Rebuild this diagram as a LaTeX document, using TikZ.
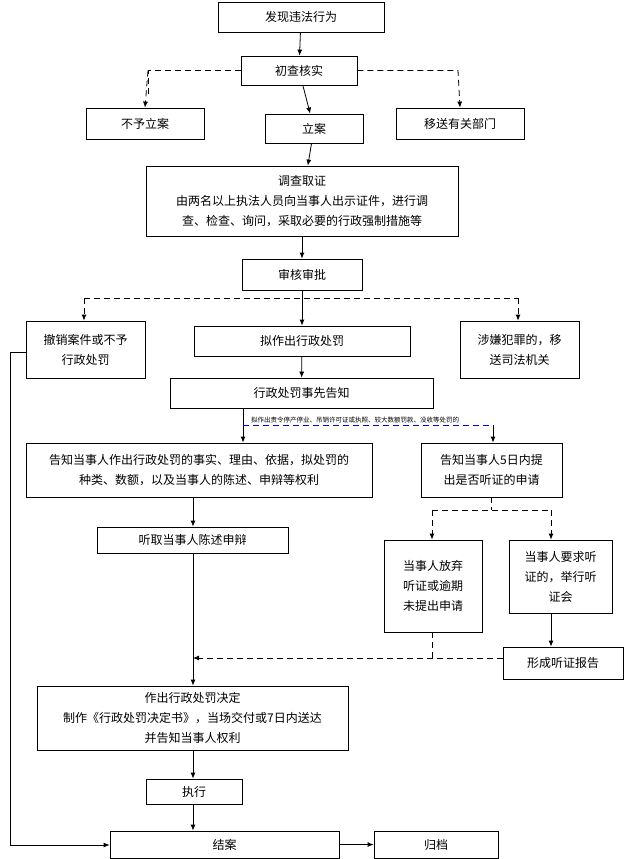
\documentclass[tikz,border=0pt]{standalone}
\usepackage{fontspec}
\setmainfont{Noto Sans CJK SC}
\usetikzlibrary{arrows.meta}
\begin{document}
\begin{tikzpicture}[x=1pt,y=-1pt,
  bx/.style={draw,thick,fill=white,align=center,font=\fontsize{12}{20}\selectfont,inner sep=0pt},
  ar/.style={-{Latex[length=6pt,width=5pt]},thick},
  da/.style={dash pattern=on 6pt off 4pt,thick}]
\useasboundingbox (0,0) rectangle (625,859);
\newcommand\bx[6]{\node[bx,minimum width={#4-#2},minimum height={#5-#3}] (#1) at ({(#2+#4)/2},{(#3+#5)/2}) {#6};}
\bx{a}{218}{2}{384}{32}{发现违法行为}
\bx{b}{241}{56}{357}{85}{初查核实}
\bx{c1}{86}{108}{204}{139}{不予立案}
\bx{c2}{265}{114}{363}{143}{立案}
\bx{c3}{396}{108}{524}{139}{移送有关部门}
\bx{d}{146}{166}{458}{236}{调查取证\\由两名以上执法人员向当事人出示证件，进行调\\查、检查、询问，采取必要的行政强制措施等}
\bx{e}{242}{259}{362}{290}{审核审批}
\bx{f1}{26}{321}{145}{378}{撤销案件或不予\\行政处罚}
\bx{f2}{194}{326}{410}{356}{拟作出行政处罚}
\bx{f3}{460}{321}{579}{378}{涉嫌犯罪的，移\\送司法机关}
\bx{g}{170}{378}{433}{408}{行政处罚事先告知}
\bx{h1}{26}{443}{372}{497}{告知当事人作出行政处罚的事实、理由、依据，拟处罚的\\种类、数额，以及当事人的陈述、申辩等权利}
\bx{h2}{421}{443}{562}{497}{告知当事人5日内提\\出是否听证的申请}
\bx{i}{97}{527}{288}{553}{听取当事人陈述申辩}
\bx{j1}{384}{540}{482}{632}{当事人放弃\\听证或逾期\\未提出申请}
\bx{j2}{509}{540}{612}{613}{当事人要求听\\证的，举行听\\证会}
\bx{k}{503}{647}{623}{679}{形成听证报告}
\bx{l}{37}{686}{348}{750}{作出行政处罚决定\\制作《行政处罚决定书》，当场交付或7日内送达\\并告知当事人权利}
\bx{m}{146}{779}{242}{804}{执行}
\bx{n1}{110}{831}{339}{858}{结案}
\bx{n2}{374}{831}{498}{858}{归档}
% connectors
\draw[ar] (a) -- (b);
\draw[ar] (b) -- (c2);
\draw[da] (b.west) -- (148,70.5) -- (148,96);
\draw[da,-{Latex[length=6pt,width=5pt]}] (148,70.5) -- (c1.north);
\draw[da,-{Latex[length=6pt,width=5pt]}] (b.east) -- (458,70.5) -- (c3.north);
\draw[ar] (c2) -- (d);
\draw[ar] (d) -- (e);
\draw[ar] (e) -- (f2);
\draw[da,-{Latex[length=6pt,width=5pt]}] (84,298) -- (f1.north-|84,0);
\draw[da] (84,298) -- (518,298);
\draw[da,-{Latex[length=6pt,width=5pt]}] (518,298) -- (f3.north-|518,0);
\draw[ar] (f2) -- (g);
\draw[ar] (g.south-|243,0) -- (h1.north-|243,0);
\node[font=\fontsize{6.5}{7}\selectfont,anchor=south west,inner sep=1pt] (lab) at (250,424) {拟作出责令停产停业、吊销许可证或执照、较大数额罚款、没收等处罚的};
\draw[blue,dash pattern=on 6pt off 4pt] (243,425) -- (493,425);
\draw[ar] (493,425) -- (h2.north-|493,0);
\draw[ar] (h1.south-|193,0) -- (i.north-|193,0);
\draw[da] (h2.south-|491,0) -- (491,510);
\draw[da] (432,510) -- (551,510);
\draw[da,-{Latex[length=6pt,width=5pt]}] (432,510) -- (j1.north-|432,0);
\draw[da,-{Latex[length=6pt,width=5pt]}] (551,510) -- (j2.north-|551,0);
\draw[ar] (j2.south-|551,0) -- (k.north-|551,0);
\draw[da] (j1.south-|432,0) -- (432,658);
\draw[da,-{Latex[length=6pt,width=5pt]}] (k.west|-0,658) -- (193,658);
\draw[ar] (i.south-|193,0) -- (l.north-|193,0);
\draw[ar] (l.south-|193,0) -- (m.north-|193,0);
\draw[ar] (m.south-|193,0) -- (n1.north-|193,0);
\draw[ar] (f1.west|-0,352) -- (10,352) -- (10,845) -- (n1.west|-0,845);
\draw[ar] (n1) -- (n2);
\end{tikzpicture}
\end{document}
